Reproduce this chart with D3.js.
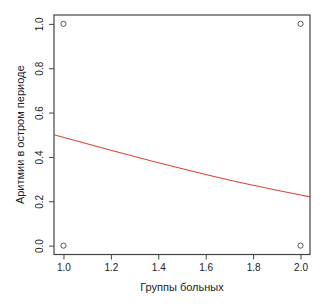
<!DOCTYPE html>
<html>
<head>
<meta charset="utf-8">
<script src="https://cdn.jsdelivr.net/npm/d3@7"></script>
<style>
  body { margin: 0; background: #fff; }
  text { font-family: "Liberation Sans", Arial, sans-serif; fill: #222; }
</style>
</head>
<body>
<svg id="chart" width="327" height="306"></svg>
<script>
// observed points (group, arrhythmia yes/no)
const groupX = [1, 1, 2, 2];
const arrhY = [0, 1, 0, 1];

// fitted curve
const curveX = [0.96, 1.2, 1.4, 1.6, 1.8, 2.04];
const curveY = [0.50, 0.43, 0.374, 0.321, 0.272, 0.22];

const xTicks = [1.0, 1.2, 1.4, 1.6, 1.8, 2.0];
const yTicks = [0.0, 0.2, 0.4, 0.6, 0.8, 1.0];

// set dimensions
const marginLeft = 54;
const marginTop = 15;
const plotRight = 310;
const plotBottom = 254.5;

const svg = d3.select('#chart');

const xScale = d3.scaleLinear()
  .domain([0.96, 2.04])
  .range([marginLeft, plotRight]);

const yScale = d3.scaleLinear()
  .domain([-0.04, 1.04])
  .range([plotBottom, marginTop]);

// x axis
const xAxis = svg.append('g')
  .attr('transform', `translate(0, ${plotBottom})`)
  .call(d3.axisBottom(xScale).tickValues(xTicks).tickFormat(d3.format('.1f')).tickSize(5).tickPadding(4));
xAxis.select('.domain').remove();
xAxis.selectAll('line').attr('stroke', '#444');
xAxis.selectAll('text').attr('font-size', 10).attr('fill', '#222');

// y axis, labels rotated like base R
const yAxis = svg.append('g')
  .attr('transform', `translate(${marginLeft}, 0)`)
  .call(d3.axisLeft(yScale).tickValues(yTicks).tickFormat(d3.format('.1f')).tickSize(5));
yAxis.select('.domain').remove();
yAxis.selectAll('line').attr('stroke', '#444');
yAxis.selectAll('text')
  .attr('font-size', 10)
  .attr('fill', '#222')
  .attr('x', 0)
  .attr('dy', 0)
  .attr('text-anchor', 'middle')
  .attr('transform', 'translate(-11, 0) rotate(-90)');

// box
svg.append('rect')
  .attr('x', marginLeft)
  .attr('y', marginTop)
  .attr('width', plotRight - marginLeft)
  .attr('height', plotBottom - marginTop)
  .attr('fill', 'none')
  .attr('stroke', '#444')
  .attr('stroke-width', 1.2);

// fitted line
const line = d3.line()
  .x((d, i) => xScale(curveX[i]))
  .y((d) => yScale(d))
  .curve(d3.curveMonotoneX);

svg.append('path')
  .datum(curveY)
  .attr('d', line)
  .attr('fill', 'none')
  .attr('stroke', '#d8453c')
  .attr('stroke-width', 1.1);

// points
svg.selectAll('.pt')
  .data(groupX)
  .enter()
  .append('circle')
  .attr('class', 'pt')
  .attr('cx', (d) => xScale(d))
  .attr('cy', (d, i) => yScale(arrhY[i]))
  .attr('r', 2.6)
  .attr('fill', 'none')
  .attr('stroke', '#444')
  .attr('stroke-width', 0.9);

// axis titles
svg.append('text')
  .attr('x', (marginLeft + plotRight) / 2)
  .attr('y', 291)
  .attr('text-anchor', 'middle')
  .attr('font-size', 11)
  .text('Группы больных');

svg.append('text')
  .attr('transform', `translate(24, ${(marginTop + plotBottom) / 2}) rotate(-90)`)
  .attr('text-anchor', 'middle')
  .attr('font-size', 11)
  .text('Аритмии в остром периоде');
</script>
</body>
</html>
